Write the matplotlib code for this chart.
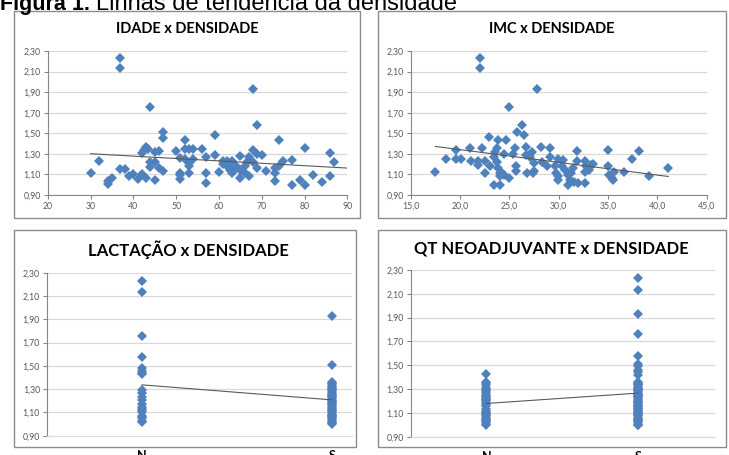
import numpy as np
import matplotlib
matplotlib.use("Agg")
import matplotlib.pyplot as plt
from matplotlib.patches import Rectangle

# ---------------- data ----------------
idade = [30, 32, 34, 34, 35, 37, 37, 37, 38, 39, 40, 41, 42, 43, 42, 42.5, 43, 43.5,
         44, 44, 44, 45, 45, 46, 46, 47, 47, 47, 45, 50, 51, 51, 51, 51, 52, 52, 52,
         53, 53, 53, 53, 54, 54, 56, 57, 57, 57, 59, 59, 60, 61, 61, 62, 62, 62.5, 63,
         63, 63, 63.5, 64, 65, 65, 65, 66, 66, 66.5, 67, 67, 68, 68, 68, 69, 69, 69,
         70, 71, 73, 73, 73, 74, 74, 75, 77, 77, 79, 80, 80, 82, 84, 86, 86, 87]
dens_idade = [1.11, 1.23, 1.01, 1.04, 1.07, 2.23, 2.13, 1.15, 1.15, 1.08, 1.10, 1.06, 1.10,
              1.07, 1.31, 1.34, 1.37, 1.35, 1.76, 1.22, 1.17, 1.32, 1.05, 1.33, 1.16, 1.51,
              1.45, 1.13, 1.22, 1.33, 1.26, 1.11, 1.06, 1.09, 1.43, 1.35, 1.25, 1.21, 1.35,
              1.18, 1.11, 1.35, 1.25, 1.35, 1.27, 1.11, 1.02, 1.48, 1.29, 1.12, 1.23, 1.20,
              1.23, 1.18, 1.14, 1.23, 1.11, 1.18, 1.14, 1.18, 1.28, 1.07, 1.14, 1.18, 1.11,
              1.22, 1.27, 1.08, 1.34, 1.93, 1.22, 1.58, 1.30, 1.16, 1.29, 1.13, 1.16, 1.11,
              1.04, 1.43, 1.18, 1.23, 1.24, 1.00, 1.05, 1.36, 1.00, 1.09, 1.03, 1.31, 1.08,
              1.22]

imc = [17.5, 18.6, 19.6, 19.6, 20.1, 21.0, 21.1, 21.8, 21.8, 22.0, 22.0, 22.2, 22.5, 22.5,
       22.9, 23.0, 23.4, 23.4, 23.5, 23.7, 23.8, 23.7, 23.8, 24.0, 24.0, 24.1, 24.3, 24.5,
       24.5, 24.7, 25.0, 25.0, 25.4, 25.6, 25.7, 25.7, 25.8, 26.3, 26.5, 26.7, 26.7, 26.8,
       27.0, 27.1, 27.3, 27.4, 27.5, 27.5, 27.8, 28.2, 28.3, 28.8, 29.1, 29.1, 29.6, 29.7,
       29.9, 29.9, 29.9, 30.3, 30.4, 30.6, 30.9, 30.9, 31.1, 31.2, 31.4, 31.5, 31.9, 31.9,
       32.0, 32.7, 32.7, 32.7, 32.8, 33.1, 33.3, 33.5, 35.0, 35.0, 35.1, 35.4, 35.5, 35.6,
       36.6, 37.4, 38.1, 39.2, 41.1]
dens_imc = [1.12, 1.25, 1.34, 1.25, 1.25, 1.36, 1.23, 1.23, 1.19, 2.23, 2.13, 1.36, 1.11, 1.23,
            1.46, 1.18, 1.27, 1.00, 1.32, 1.36, 1.43, 1.22, 1.16, 1.00, 1.11, 1.08, 1.11, 1.30,
            1.09, 1.43, 1.76, 1.07, 1.30, 1.36, 1.18, 1.13, 1.51, 1.58, 1.48, 1.37, 1.29, 1.11,
            1.29, 1.27, 1.32, 1.11, 1.13, 1.21, 1.93, 1.37, 1.22, 1.18, 1.36, 1.27, 1.18, 1.11,
            1.25, 1.08, 1.05, 1.18, 1.24, 1.14, 1.09, 1.00, 1.05, 1.11, 1.16, 1.03, 1.33, 1.23,
            1.02, 1.23, 1.12, 1.02, 1.18, 1.14, 1.19, 1.20, 1.34, 1.18, 1.09, 1.07, 1.05, 1.12,
            1.12, 1.25, 1.33, 1.08, 1.16]

categorias = ["N", "S"]
lact_n = [2.23, 2.13, 1.76, 1.58, 1.48, 1.46, 1.44, 1.43, 1.29, 1.27, 1.23, 1.21, 1.17,
          1.15, 1.13, 1.12, 1.10, 1.07, 1.06, 1.05, 1.03, 1.02]
lact_s = [1.93, 1.51, 1.36, 1.35, 1.34, 1.33, 1.32, 1.31, 1.30, 1.29, 1.28, 1.27, 1.26,
          1.25, 1.24, 1.23, 1.22, 1.21, 1.20, 1.19, 1.18, 1.17, 1.16, 1.15, 1.14, 1.13,
          1.12, 1.11, 1.10, 1.09, 1.08, 1.07, 1.06, 1.05, 1.04, 1.03, 1.02, 1.01, 1.00]
qt_n = [1.43, 1.36, 1.35, 1.33, 1.31, 1.30, 1.29, 1.28, 1.27, 1.25, 1.24, 1.23, 1.22,
        1.22, 1.21, 1.20, 1.18, 1.17, 1.16, 1.13, 1.12, 1.11, 1.10, 1.09, 1.08, 1.07,
        1.06, 1.05, 1.04, 1.03, 1.02, 1.01, 1.00]
qt_s = [2.23, 2.13, 1.93, 1.76, 1.58, 1.51, 1.49, 1.46, 1.44, 1.42, 1.36, 1.35, 1.34,
        1.34, 1.33, 1.32, 1.31, 1.30, 1.29, 1.29, 1.28, 1.27, 1.26, 1.25, 1.25, 1.24,
        1.23, 1.23, 1.22, 1.21, 1.20, 1.19, 1.18, 1.18, 1.17, 1.16, 1.16, 1.15, 1.14,
        1.13, 1.13, 1.12, 1.11, 1.11, 1.10, 1.09, 1.08, 1.08, 1.07, 1.06, 1.05, 1.05,
        1.04, 1.03, 1.02, 1.01, 1.00, 1.00]

yticks = [0.90, 1.10, 1.30, 1.50, 1.70, 1.90, 2.10, 2.30]

# ---------------- style ----------------
W, H = 729, 455
BLUE = "#4F81BD"
GRID = "#D9D9D9"
AXC = "#868686"
TXT = "#595959"
FONT = "Lato"

fig = plt.figure(figsize=(W / 100, H / 100), dpi=100)


def rect(x0, x1, y0, y1):
    return [x0 / W, 1 - y1 / H, (x1 - x0) / W, (y1 - y0) / H]


def box(x0, y0, x1, y1):
    fig.patches.append(Rectangle((x0 / W, 1 - y1 / H), (x1 - x0) / W, (y1 - y0) / H,
                                 transform=fig.transFigure, fill=False,
                                 edgecolor="#8C8C8C", linewidth=1.0))


def fmt_comma(v, d):
    return f"{v:.{d}f}".replace(".", ",")


def base_axes(r):
    ax = fig.add_axes(r)
    ax.set_ylim(0.90, 2.30)
    ax.set_yticks(yticks)
    ax.set_yticklabels([fmt_comma(v, 2) for v in yticks], fontsize=6.3,
                       color=TXT, family=FONT)
    ax.yaxis.grid(True, color=GRID, linewidth=0.9)
    ax.set_axisbelow(True)
    for s in ["top", "right"]:
        ax.spines[s].set_visible(False)
    ax.spines["left"].set_color(AXC)
    ax.spines["left"].set_linewidth(0.8)
    ax.spines["bottom"].set_color(AXC)
    ax.spines["bottom"].set_linewidth(0.8)
    ax.tick_params(axis="y", length=3, width=0.8, color=AXC, pad=2)
    ax.set_facecolor("none")
    return ax


def scatter_trend(ax, x, y, x_end=None):
    x = np.asarray(x, float)
    y = np.asarray(y, float)
    ax.plot(x, y, linestyle="none", marker="D", ms=4.6, color=BLUE,
            markeredgewidth=0, zorder=3, clip_on=False)
    m, b = np.polyfit(x, y, 1)
    xe = x.max() if x_end is None else x_end
    xs = np.array([x.min(), xe])
    ax.plot(xs, m * xs + b, color="#595959", linewidth=0.8, zorder=4)


# figure caption (cut at top in the reference)
fig.text(0 / W, 1 - 10 / H, "Figura 1.", fontsize=15.5, fontweight="bold",
         family="Liberation Sans", va="baseline", ha="left")
fig.text(96 / W, 1 - 10 / H, "Linhas de tendência da densidade", fontsize=17,
         family="Liberation Sans", va="baseline", ha="left")

# ---- panel 1 : IDADE ----
box(14, 11, 360, 218)
ax1 = base_axes(rect(47.7, 347.3, 51, 195))
ax1.set_xlim(20, 90)
xt1 = [20, 30, 40, 50, 60, 70, 80, 90]
ax1.set_xticks(xt1)
ax1.set_xticklabels([str(v) for v in xt1], fontsize=6.3, color=TXT, family=FONT)
ax1.tick_params(axis="x", length=3, width=0.8, color=AXC, pad=2)
scatter_trend(ax1, idade, dens_idade, x_end=90)
fig.text(187 / W, 1 - 29 / H, "IDADE x DENSIDADE", fontsize=10.5, fontweight="bold",
         family=FONT, ha="center", va="center")

# ---- panel 2 : IMC ----
box(378, 11, 726, 218)
ax2 = base_axes(rect(410.7, 706.7, 51, 195))
ax2.set_xlim(15, 45)
xt2 = [15, 20, 25, 30, 35, 40, 45]
ax2.set_xticks(xt2)
ax2.set_xticklabels([fmt_comma(v, 1) for v in xt2], fontsize=6.3, color=TXT, family=FONT)
ax2.tick_params(axis="x", length=3, width=0.8, color=AXC, pad=2)
scatter_trend(ax2, imc, dens_imc)
fig.text(552 / W, 1 - 29 / H, "IMC x DENSIDADE", fontsize=10.5, fontweight="bold",
         family=FONT, ha="center", va="center")


def cat_panel(r, ncol, scol, xlim, title, tx, ty, tsize):
    ax = base_axes(r)
    ax.set_xlim(*xlim)
    ax.spines["bottom"].set_color(GRID)
    x = [0] * len(ncol) + [1] * len(scol)
    y = list(ncol) + list(scol)
    scatter_trend(ax, x, y)
    ax.set_xticks([0, 1])
    ax.set_xticklabels(categorias, fontsize=9, fontweight="bold", family=FONT)
    ax.tick_params(axis="x", length=0, pad=10.5)
    fig.text(tx / W, 1 - ty / H, title, fontsize=tsize, fontweight="bold",
             family=FONT, ha="center", va="center")
    return ax


# ---- panel 3 : LACTAÇÃO ----
box(14, 230, 356, 447)
cat_panel(rect(47, 352, 272.7, 435.7), lact_n, lact_s, (-0.5, 1.105),
          "LACTAÇÃO x DENSIDADE", 188, 250, 12)

# ---- panel 4 : QT NEOADJUVANTE ----
box(378, 230, 726, 447)
cat_panel(rect(410.7, 715, 270, 436.7), qt_n, qt_s, (-0.5, 1.51),
          "QT NEOADJUVANTE x DENSIDADE", 551, 249, 12)

fig.savefig("out.png", dpi=100)
